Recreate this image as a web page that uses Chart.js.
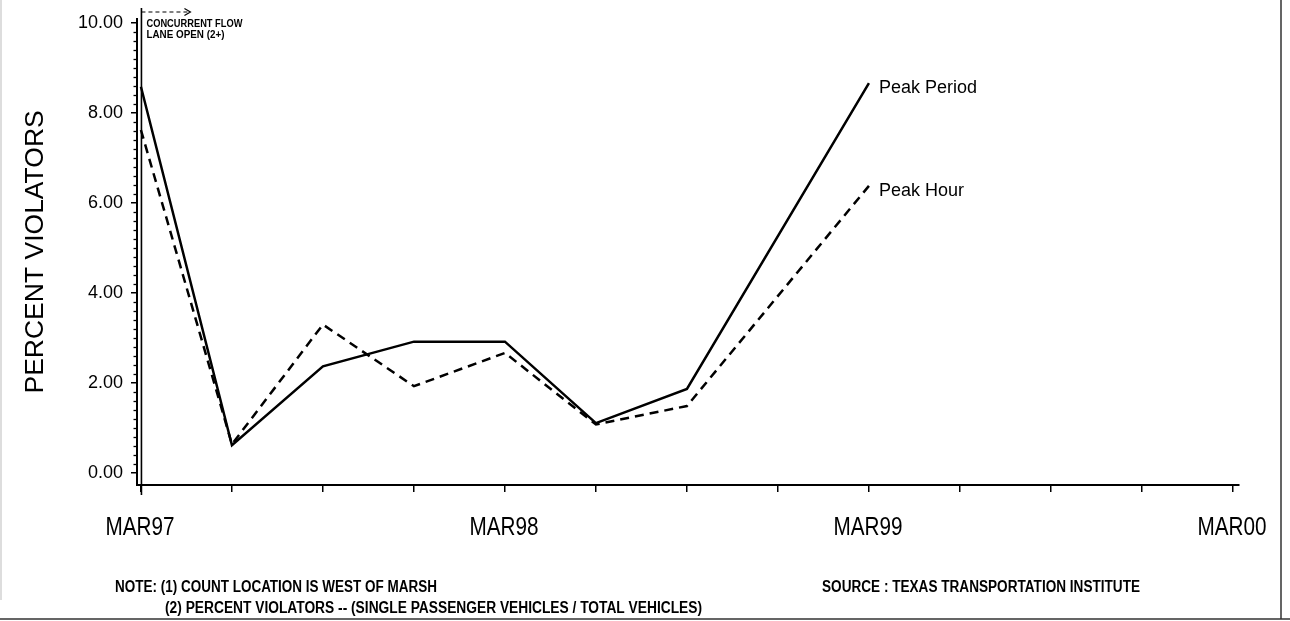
<!DOCTYPE html>
<html>
<head>
<meta charset="utf-8">
<script src="https://cdn.jsdelivr.net/npm/chart.js@4.4.1/dist/chart.umd.min.js"></script>
<style>
html, body { margin: 0; padding: 0; background: #fff; }
canvas { display: block; }
</style>
</head>
<body>
<canvas id="grafico" width="1290" height="621"></canvas>
<script>
// months counted from MAR97
const months = [0, 3, 6, 9, 12, 15, 18, 24];
const peakPeriod = [8.58, 0.62, 2.37, 2.92, 2.92, 1.11, 1.87, 8.66];
const peakHour = [7.62, 0.64, 3.30, 1.93, 2.67, 1.08, 1.49, 6.38];

const xTickMonths = [0, 3, 6, 9, 12, 15, 18, 21, 24, 27, 30, 33, 36];
const xLabelMonths = [0, 12, 24, 36];
const xLabels = ["MAR97", "MAR98", "MAR99", "MAR00"];
const yTicks = [0, 2, 4, 6, 8, 10];
const laneOpenMonth = 0;

const seriesNames = ["Peak Period", "Peak Hour"];
const notes = [
    "NOTE: (1) COUNT LOCATION IS WEST OF MARSH",
    "(2) PERCENT VIOLATORS -- (SINGLE PASSENGER VEHICLES / TOTAL VEHICLES)"
];
const sourceText = "SOURCE : TEXAS TRANSPORTATION INSTITUTE";
const markerText = ["CONCURRENT FLOW", "LANE OPEN (2+)"];

const FONT = "'Liberation Sans', Arial, sans-serif";

function toPoints(values) {
    return months.map((m, i) => ({ x: m, y: values[i] }));
}

const decorations = {
    id: "decorations",
    afterDraw(chart) {
        const ctx = chart.ctx;
        const xs = chart.scales.x;
        const ys = chart.scales.y;
        const area = chart.chartArea;

        ctx.save();
        ctx.strokeStyle = "#000";
        ctx.fillStyle = "#000";

        // minor ticks on the y axis
        ctx.lineWidth = 1.3;
        for (let k = 1; k < 50; k++) {
            if (k % 10 === 0) continue;
            const py = Math.round(ys.getPixelForValue(k / 5)) + 0.5;
            ctx.beginPath();
            ctx.moveTo(area.left - 3.5, py);
            ctx.lineTo(area.left, py);
            ctx.stroke();
        }

        // x labels, narrow like the original lettering
        ctx.font = "25px " + FONT;
        ctx.textAlign = "center";
        ctx.textBaseline = "middle";
        xLabelMonths.forEach((m, i) => {
            ctx.fillText(xLabels[i], xs.getPixelForValue(m) - 1, 528, 69);
        });

        // lane open marker
        const xm = xs.getPixelForValue(laneOpenMonth) + 0.5;
        ctx.lineWidth = 1.6;
        ctx.beginPath();
        ctx.moveTo(xm, 8);
        ctx.lineTo(xm, area.bottom + 10);
        ctx.stroke();

        ctx.lineWidth = 1.2;
        ctx.setLineDash([4, 3]);
        ctx.beginPath();
        ctx.moveTo(xm, 12);
        ctx.lineTo(xm + 47, 12);
        ctx.stroke();
        ctx.setLineDash([]);
        ctx.beginPath();
        ctx.moveTo(xm + 43, 8.5);
        ctx.lineTo(xm + 49, 12);
        ctx.lineTo(xm + 43, 15.5);
        ctx.stroke();

        ctx.font = "bold 10px " + FONT;
        ctx.textAlign = "left";
        ctx.fillText(markerText[0], xm + 5, 24, 96);
        ctx.fillText(markerText[1], xm + 5, 35, 78);

        // series labels at the line ends
        const last = months.length - 1;
        const ends = [peakPeriod[last], peakHour[last]];
        ctx.font = "18px " + FONT;
        seriesNames.forEach((name, i) => {
            const px = xs.getPixelForValue(months[last]) + 10;
            const py = ys.getPixelForValue(ends[i]) + 5;
            ctx.fillText(name, px, py);
        });

        // notes
        ctx.font = "bold 16px " + FONT;
        ctx.fillText(notes[0], 115, 588, 322);
        ctx.fillText(notes[1], 165, 609, 537);
        ctx.fillText(sourceText, 822, 588, 318);

        // frame
        ctx.lineWidth = 1.5;
        ctx.strokeStyle = "#333";
        ctx.beginPath();
        ctx.moveTo(1281, 0);
        ctx.lineTo(1281, 619);
        ctx.moveTo(0, 619);
        ctx.lineTo(1290, 619);
        ctx.stroke();
        ctx.strokeStyle = "#bbb";
        ctx.lineWidth = 1;
        ctx.beginPath();
        ctx.moveTo(1, 0);
        ctx.lineTo(1, 600);
        ctx.stroke();

        ctx.restore();
    }
};

function buildChart() {
    const ctx = document.getElementById("grafico").getContext("2d");

    new Chart(ctx, {
        type: "line",
        data: {
            datasets: [
                {
                    label: seriesNames[0],
                    data: toPoints(peakPeriod),
                    borderColor: "#000",
                    borderWidth: 2.5,
                    pointRadius: 0,
                    tension: 0,
                    fill: false
                },
                {
                    label: seriesNames[1],
                    data: toPoints(peakHour),
                    borderColor: "#000",
                    borderWidth: 2.5,
                    borderDash: [9, 6],
                    pointRadius: 0,
                    tension: 0,
                    fill: false
                }
            ]
        },
        options: {
            responsive: false,
            animation: false,
            devicePixelRatio: 1,
            layout: {
                padding: { left: 0, right: 51, top: 15, bottom: 0 }
            },
            plugins: {
                legend: { display: false },
                tooltip: { enabled: false }
            },
            scales: {
                x: {
                    type: "linear",
                    min: -0.13,
                    max: 36.2,
                    afterBuildTicks: (scale) => {
                        scale.ticks = xTickMonths.map((v) => ({ value: v }));
                    },
                    afterFit: (scale) => {
                        scale.height = 136;
                    },
                    grid: {
                        drawOnChartArea: false,
                        drawTicks: true,
                        tickLength: 7,
                        color: "#000",
                        lineWidth: 1.5
                    },
                    border: { display: true, color: "#000", width: 2 },
                    ticks: {
                        autoSkip: false,
                        maxRotation: 0,
                        callback: () => ""
                    }
                },
                y: {
                    type: "linear",
                    min: -0.264,
                    max: 10.09,
                    afterBuildTicks: (scale) => {
                        scale.ticks = yTicks.map((v) => ({ value: v }));
                    },
                    afterFit: (scale) => {
                        scale.width = 137;
                    },
                    grid: {
                        drawOnChartArea: false,
                        drawTicks: true,
                        tickLength: 6,
                        color: "#000",
                        lineWidth: 1.5
                    },
                    border: { display: true, color: "#000", width: 2 },
                    ticks: {
                        padding: 8,
                        color: "#000",
                        font: { family: FONT, size: 18 },
                        callback: (value) => value.toFixed(2)
                    },
                    title: {
                        display: true,
                        text: "PERCENT VIOLATORS",
                        color: "#000",
                        font: { family: FONT, size: 26.5 },
                        padding: { top: 20, bottom: 0 }
                    }
                }
            }
        },
        plugins: [decorations]
    });
}

buildChart();
</script>
</body>
</html>
